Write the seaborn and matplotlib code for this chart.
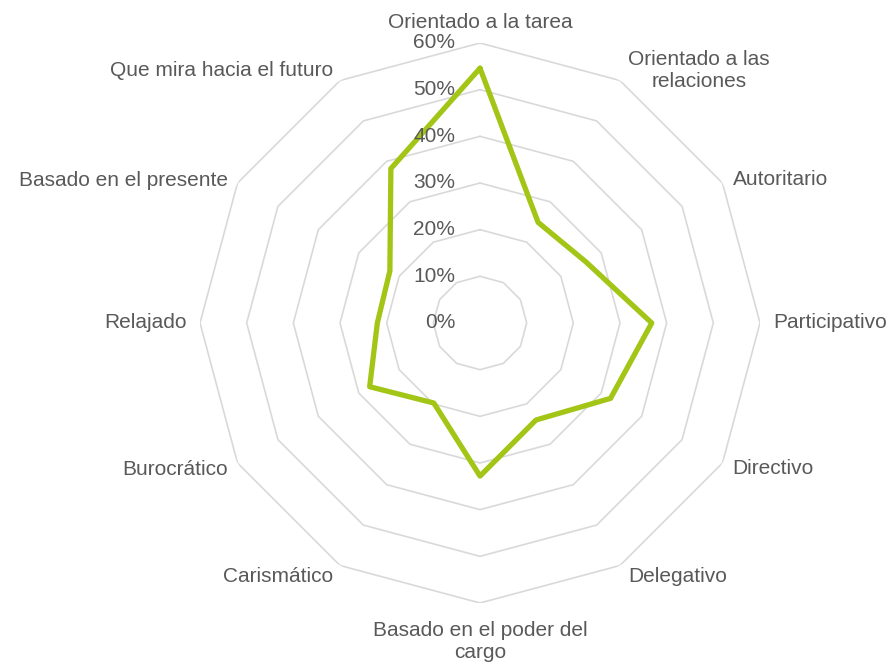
import numpy as np
import pandas as pd
import matplotlib.pyplot as plt
import matplotlib.transforms as mtransforms
import seaborn as sns

categorias = ['Orientado a la tarea', 'Orientado a las\nrelaciones', 'Autoritario',
              'Participativo', 'Directivo', 'Delegativo',
              'Basado en el poder del\ncargo', 'Carismático', 'Burocrático',
              'Relajado', 'Basado en el presente', 'Que mira hacia el futuro']
valores = [54.6, 24.9, 26.2, 36.8, 32.3, 24.0, 32.8, 19.8, 27.3, 22.0, 22.3, 38.2]
niveles = [0, 10, 20, 30, 40, 50, 60]
etiquetas_niveles = ['0%', '10%', '20%', '30%', '40%', '50%', '60%']

gris_texto = '#595959'
gris_red = '#D9D9D9'
verde = '#A2C516'

sns.set_style('white')
plt.rcParams['font.family'] = ['Liberation Sans', 'DejaVu Sans']

n = len(categorias)
angulos = np.linspace(0, 2 * np.pi, n, endpoint=False)
df = pd.DataFrame({'angulo': np.append(angulos, angulos[0]),
                   'valor': valores + valores[:1]})

fig = plt.figure(figsize=(8.91, 6.64), dpi=100)
ax = fig.add_axes([200 / 891, 61 / 664, 560 / 891, 560 / 664], projection='polar')
ax.set_theta_zero_location('N')
ax.set_theta_direction(-1)
ax.set_ylim(0, 60)
ax.grid(False)
ax.spines['polar'].set_visible(False)
ax.set_xticks([])
ax.set_yticks([])

# anillos poligonales
cerrado = np.append(angulos, angulos[0])
for r in niveles[1:]:
    ax.plot(cerrado, [r] * len(cerrado), color=gris_red, lw=1.2, zorder=1)

sns.lineplot(data=df, x='angulo', y='valor', sort=False, color=verde,
             lw=3.8, ax=ax, zorder=3, estimator=None)
ax.set_xlabel('')
ax.set_ylabel('')

fs = 15

# etiquetas del eje radial
off_r = mtransforms.offset_copy(ax.transData, fig=fig, x=-25, y=0, units='dots')
for r, t in zip(niveles, etiquetas_niveles):
    ax.text(0, r, t, transform=off_r, ha='right', va='center',
            fontsize=fs, color=gris_texto)

# etiquetas de categorias
ajustes = [(0, 11, 'center', 'bottom'), (8, 10, 'left', 'center'),
           (10, 3, 'left', 'center'), (13, 0, 'left', 'center'),
           (10, -6, 'left', 'center'), (8, -11, 'left', 'center'),
           (0, -18, 'center', 'top'), (-7, -11, 'right', 'center'),
           (-10, -6, 'right', 'center'), (-13, 0, 'right', 'center'),
           (-10, 3, 'right', 'center'), (-7, 10, 'right', 'center')]
for ang, cat, (dx, dy, ha, va) in zip(angulos, categorias, ajustes):
    tr = mtransforms.offset_copy(ax.transData, fig=fig, x=dx, y=dy, units='dots')
    ax.text(ang, 60, cat, transform=tr, ha=ha, va=va, multialignment='center',
            fontsize=fs, color=gris_texto)

fig.savefig('out.png', dpi=100)
